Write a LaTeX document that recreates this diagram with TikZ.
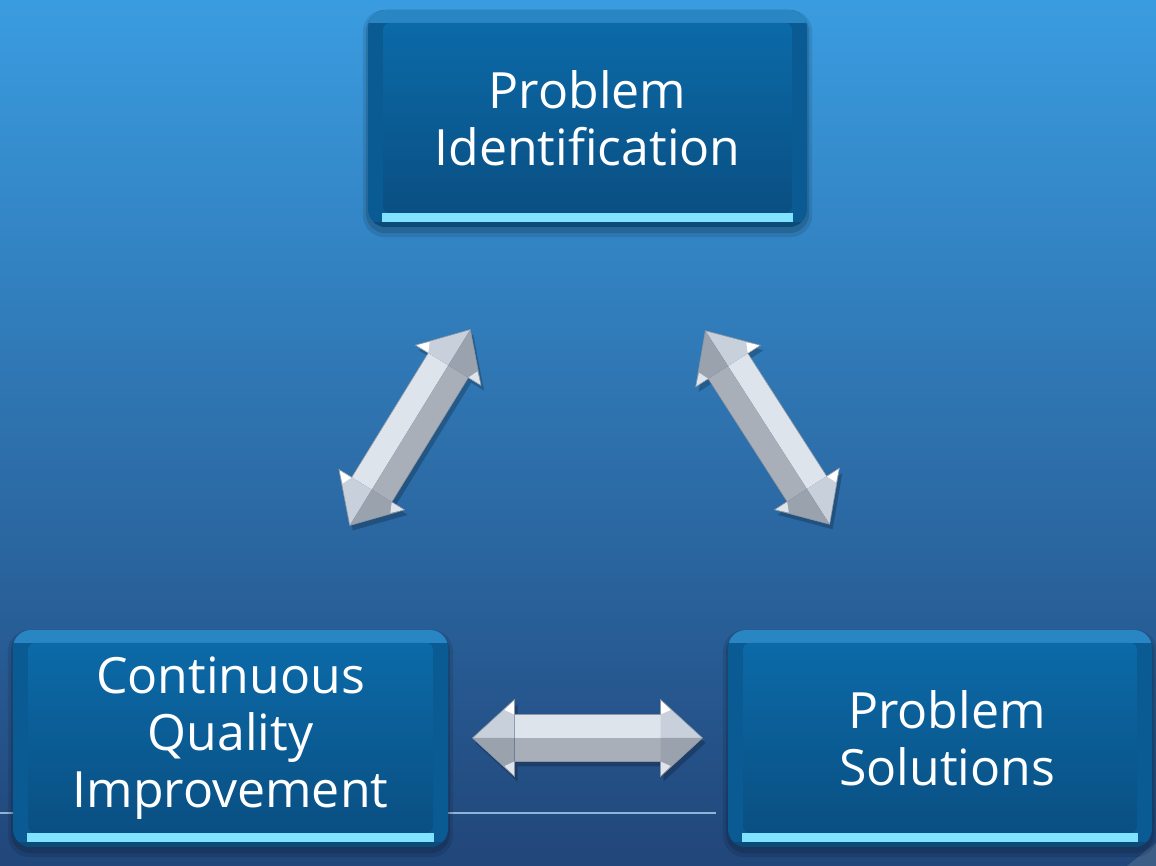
\documentclass[tikz,border=0pt]{standalone}
\usepackage{fontspec}
\setmainfont{Open Sans}
\usetikzlibrary{calc}
\pgfdeclarelayer{back}
\pgfdeclarelayer{shadow}
\pgfsetlayers{back,shadow,main}
\definecolor{bgtop}{HTML}{3A9CE0}
\definecolor{bgmid}{HTML}{2B77B4}
\definecolor{bgbot}{HTML}{21467A}
\definecolor{boxedge}{HTML}{0A5A93}
\definecolor{boxbevel}{HTML}{2A86C2}
\definecolor{boxstrip}{HTML}{80E2FF}
\definecolor{boxlow}{HTML}{0C4A78}
\definecolor{facetop}{HTML}{0B6AA8}
\definecolor{facebot}{HTML}{0A4F82}
\definecolor{alight}{HTML}{DEE4EB}
\definecolor{adark}{HTML}{A8AFB9}
\definecolor{hlight}{HTML}{C8D0DB}
\definecolor{hdark}{HTML}{9AA2AD}
\definecolor{aedge}{HTML}{8E97A3}
\definecolor{linecol}{HTML}{8FB4D8}
\definecolor{cornercol}{HTML}{3C5D85}
\tikzset{
  cbox/.style={rectangle, rounded corners=18pt, inner sep=0pt, fill=boxedge,
    text=white, align=center, font=\fontsize{50}{57}\selectfont,
    path picture={
      \fill[boxlow, sharp corners] (path picture bounding box.south west) rectangle ([yshift=5]path picture bounding box.south east);
      \fill[boxbevel, sharp corners] ([yshift=-13]path picture bounding box.north west) rectangle (path picture bounding box.north east);
      \fill[boxstrip, sharp corners] ([xshift=14,yshift=5]path picture bounding box.south west) rectangle ([xshift=-14,yshift=14]path picture bounding box.south east);
      \shade[top color=facetop, bottom color=facebot, rounded corners=7pt] ([xshift=15,yshift=14]path picture bounding box.south west) rectangle ([xshift=-15,yshift=-13]path picture bounding box.north east);
    }},
  bevshadow/.pic={
    \fill[black, opacity=0.22] (-115,0) -- (-73,38.5) -- (-73,23.5) -- (73,23.5) -- (73,38.5) -- (115,0) -- (73,-38.5) -- (73,-23.5) -- (-73,-23.5) -- (-73,-38.5) -- cycle;
  },
  bevarrow/.pic={
    \fill[alight] (-73,0) rectangle (73,23.5);
    \fill[adark] (-73,-23.5) rectangle (73,0);
    \fill[hlight] (73,0) -- (73,38.5) -- (115,0) -- cycle;
    \fill[hdark] (73,0) -- (115,0) -- (73,-38.5) -- cycle;
    \fill[hlight] (-73,0) -- (-73,38.5) -- (-115,0) -- cycle;
    \fill[hdark] (-73,0) -- (-115,0) -- (-73,-38.5) -- cycle;
    \fill[white] (73,23.5) -- (73,38.5) -- (83,28) -- cycle;
    \fill[white] (-73,23.5) -- (-73,38.5) -- (-83,28) -- cycle;
    \fill[alight] (73,-23.5) -- (73,-38.5) -- (83,-28) -- cycle;
    \fill[alight] (-73,-23.5) -- (-73,-38.5) -- (-83,-28) -- cycle;
    \draw[aedge, line width=0.6pt, line join=round] (-115,0) -- (-73,38.5) -- (-73,23.5) -- (73,23.5) -- (73,38.5) -- (115,0) -- (73,-38.5) -- (73,-23.5) -- (-73,-23.5) -- (-73,-38.5) -- cycle;
  }
}
\begin{document}
\begin{tikzpicture}[x=1pt,y=1pt]
\useasboundingbox (0,0) rectangle (1156,866);
\begin{pgfonlayer}{back}
  \shade[top color=bgtop, middle color=bgmid, bottom color=bgbot] (0,0) rectangle (1156,866);
  \fill[cornercol] (1127,0) -- (1156,23) -- (1156,0) -- cycle;
  \draw[linecol, line width=1.2pt] (0,53) -- (716,53);
\end{pgfonlayer}

\node[cbox, minimum width=439, minimum height=217] (pi) at (587.5,747.5) {Problem\\Identification};
\node[cbox, minimum width=435, minimum height=217] (cq) at (230.5,127.5) {Continuous\\Quality\\Improvement};
\node[cbox, minimum width=424, minimum height=217] (ps) at (940,127.5) {\hspace*{14pt}Problem\\\hspace*{14pt}Solutions};

\begin{pgfonlayer}{shadow}
  \foreach \n in {pi,cq,ps}{
    \fill[black, opacity=0.10, rounded corners=22pt] ([xshift=-5,yshift=-10]\n.south west) rectangle ([xshift=5,yshift=0]\n.north east);
    \fill[black, opacity=0.14, rounded corners=20pt] ([xshift=-2,yshift=-6]\n.south west) rectangle ([xshift=2,yshift=-2]\n.north east);
  }
\end{pgfonlayer}

\coordinate (l1) at (350,341);
\coordinate (l2) at (470,536);
\coordinate (r1) at (705,536);
\coordinate (r2) at (830,341);
\coordinate (h1) at (473,128);
\coordinate (h2) at (702,128);

\pic[shift={(3,-5)}, rotate=58.4] at ($(l1)!0.5!(l2)$) {bevshadow};
\pic[shift={(3,-5)}, rotate=-57.3] at ($(r1)!0.5!(r2)$) {bevshadow};
\pic[shift={(3,-5)}] at ($(h1)!0.5!(h2)$) {bevshadow};
\pic[rotate=58.4] at ($(l1)!0.5!(l2)$) {bevarrow};
\pic[rotate=-57.3] at ($(r1)!0.5!(r2)$) {bevarrow};
\pic at ($(h1)!0.5!(h2)$) {bevarrow};
\end{tikzpicture}
\end{document}
